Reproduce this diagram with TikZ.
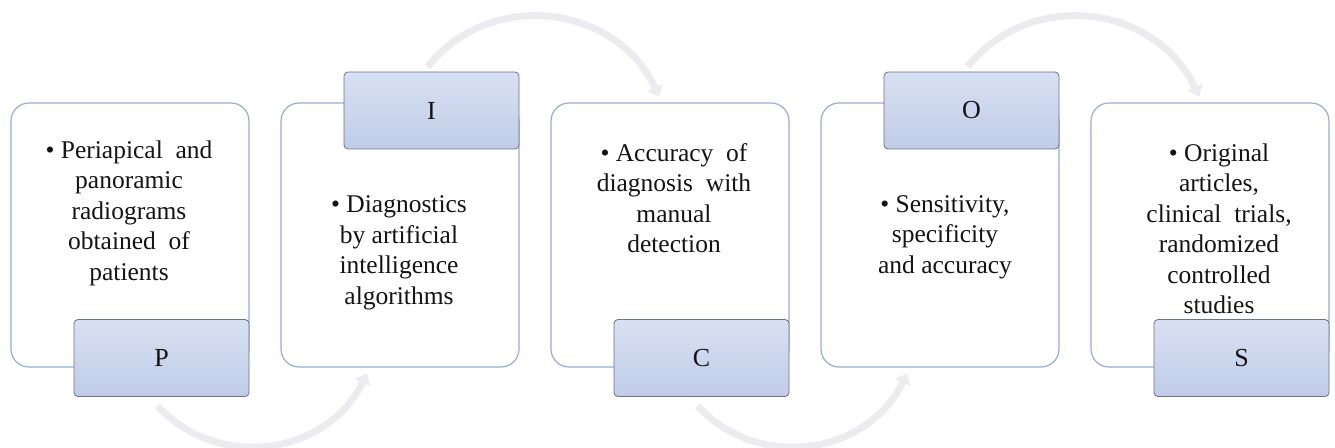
\documentclass[tikz,border=0pt]{standalone}
\usepackage{fontspec}
\setmainfont{Liberation Serif}
\usepackage{tikz}
\usetikzlibrary{arrows.meta, positioning}
\definecolor{boxline}{RGB}{150,174,214}
\definecolor{lblline}{RGB}{105,115,140}
\definecolor{lbltop}{RGB}{216,224,242}
\definecolor{lblbot}{RGB}{192,204,232}
\definecolor{arcgray}{RGB}{236,236,240}
\definecolor{txtdark}{RGB}{20,20,20}
\tikzset{
  bigbox/.style={rectangle, draw=boxline, fill=white, line width=1.2pt,
    rounded corners=18pt, minimum width=238pt, minimum height=264pt},
  letterbox/.style={rectangle, draw=lblline, top color=lbltop, bottom color=lblbot,
    line width=0.8pt, rounded corners=4pt, minimum width=175pt, minimum height=77pt,
    font=\fontsize{26}{30}\selectfont, text=txtdark},
  itemtext/.style={align=center, font=\fontsize{25.5}{30.5}\selectfont, text=txtdark},
  flow/.style={draw=arcgray, line width=7pt, -{Triangle[length=10pt, width=17pt]}}
}

\begin{document}
\begin{tikzpicture}[x=1pt, y=1pt]
  \useasboundingbox (0,0) rectangle (1335,447);

  % Big boxes
  \node[bigbox] (boxP) at (130,212) {};
  \node[bigbox] (boxI) at (400,212) {};
  \node[bigbox] (boxC) at (670,212) {};
  \node[bigbox] (boxO) at (940,212) {};
  \node[bigbox] (boxS) at (1210,212) {};

  % Box texts
  \node[itemtext] (txtP) at (129,234) {\textbullet\ Periapical\ \ and\\panoramic\\radiograms\\obtained\ \ of\\patients};
  \node[itemtext] (txtI) at (399,194) {\textbullet\ Diagnostics\\by artificial\\intelligence\\algorithms};
  \node[itemtext] (txtC) at (674,249) {\textbullet\ Accuracy\ \ of\\diagnosis\ \ with\\manual\\detection};
  \node[itemtext] (txtO) at (945,210) {\textbullet\ Sensitivity,\\specificity\\and accuracy};
  \node[itemtext] (txtS) at (1219,218) {\textbullet\ Original\\articles,\\clinical\ \ trials,\\randomized\\controlled\\studies};

  % Letter tabs
  \node[letterbox] (lblP) at (161.5,89) {P};
  \node[letterbox] (lblI) at (431.5,336.5) {I};
  \node[letterbox] (lblC) at (701.5,89) {C};
  \node[letterbox] (lblO) at (971.5,336.5) {O};
  \node[letterbox] (lblS) at (1241.5,89) {S};

  % Circular arrows
  \draw[flow] ([xshift=-4pt,yshift=-9pt]lblP.south) to[out=-47, in=-116, looseness=1.09] ([xshift=-33pt,yshift=-6pt]boxI.south);
  \draw[flow] ([xshift=-4pt,yshift=5pt]lblI.north) to[out=51, in=115, looseness=1.11] ([xshift=-11pt,yshift=6pt]boxC.north);
  \draw[flow] ([xshift=-4pt,yshift=-9pt]lblC.south) to[out=-47, in=-116, looseness=1.09] ([xshift=-33pt,yshift=-6pt]boxO.south);
  \draw[flow] ([xshift=-4pt,yshift=5pt]lblO.north) to[out=51, in=115, looseness=1.11] ([xshift=-11pt,yshift=6pt]boxS.north);
\end{tikzpicture}
\end{document}
